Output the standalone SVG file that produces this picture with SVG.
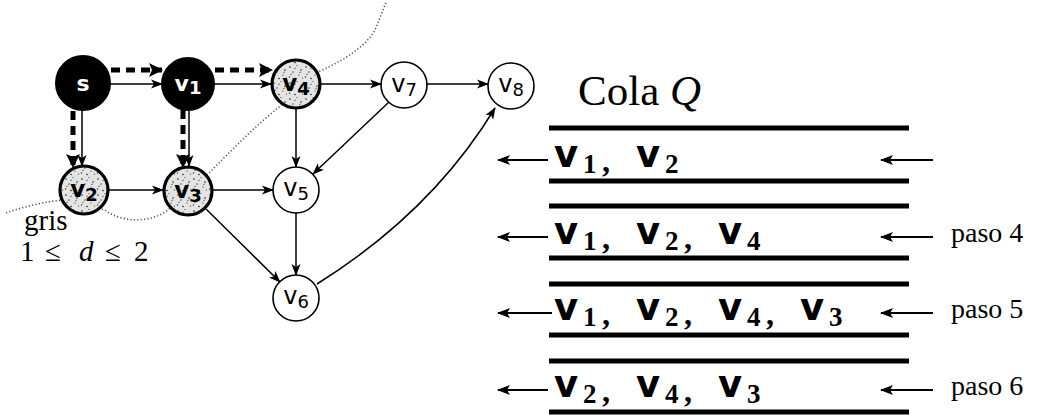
<svg xmlns="http://www.w3.org/2000/svg" width="1054" height="415" viewBox="0 0 1054 415">
  <style>
    .edge { fill: none; stroke: #000; stroke-width: 1.5; marker-end: url(#arr); }
    .tree { fill: none; stroke: #000; stroke-width: 5; stroke-dasharray: 9 6; marker-end: url(#arrBig); }
    .frontier { fill: none; stroke: #555; stroke-width: 1.6; stroke-dasharray: 1.2 2.2; }
    .black { fill: #000; stroke: #000; stroke-width: 2; }
    .gray { fill: url(#stipple); stroke: #000; stroke-width: 3.2; }
    .white { fill: #fff; stroke: #000; stroke-width: 1.6; }
    .lblW { font-family: "DejaVu Sans", sans-serif; font-weight: bold; font-size: 22px; fill: #fff; text-anchor: middle; }
    .lblB { font-family: "DejaVu Sans", sans-serif; font-weight: bold; font-size: 23px; fill: #000; text-anchor: middle; }
    .lbl { font-family: "DejaVu Sans", sans-serif; font-size: 24px; fill: #000; text-anchor: middle; }
    .sub { font-size: 18px; }
    .serif { font-family: "Liberation Serif", serif; fill: #000; }
    .bar { stroke: #000; stroke-width: 5; }
    .qarr { fill: none; stroke: #000; stroke-width: 2.2; marker-end: url(#arrQ); }
    .qv { font-family: "DejaVu Sans", sans-serif; font-weight: bold; font-size: 37px; fill: #000; }
    .qsub { font-family: "Liberation Serif", serif; font-weight: bold; font-size: 27px; fill: #000; }
    .qcomma { font-family: "Liberation Serif", serif; font-weight: bold; font-size: 32px; fill: #000; }
    .paso { font-family: "Liberation Serif", serif; font-size: 28px; fill: #000; }
  </style>
  <defs>
    <marker id="arr" viewBox="0 0 12 10" refX="11" refY="5" markerWidth="12" markerHeight="10" markerUnits="userSpaceOnUse" orient="auto">
      <path d="M0,0.5 L12,5 L0,9.5 L3,5 Z" fill="#000"/>
    </marker>
    <marker id="arrQ" viewBox="0 0 13 10" refX="12" refY="5" markerWidth="13" markerHeight="10" markerUnits="userSpaceOnUse" orient="auto">
      <path d="M0,0 L13,5 L0,10 L3,5 Z" fill="#000"/>
    </marker>
    <marker id="arrBig" viewBox="0 0 14 14" refX="13" refY="7" markerWidth="14" markerHeight="14" markerUnits="userSpaceOnUse" orient="auto">
      <path d="M0,0 L14,7 L0,14 L3,7 Z" fill="#000"/>
    </marker>
    <pattern id="stipple" width="16" height="16" patternUnits="userSpaceOnUse">
      <rect width="16" height="16" fill="#e4e4e4"/>
      <circle cx="2" cy="3" r="0.8" fill="#222"/>
      <circle cx="9" cy="1.5" r="0.6" fill="#333"/>
      <circle cx="13" cy="6" r="0.8" fill="#222"/>
      <circle cx="5" cy="8" r="0.7" fill="#333"/>
      <circle cx="11" cy="11" r="0.6" fill="#222"/>
      <circle cx="1.5" cy="13" r="0.7" fill="#333"/>
      <circle cx="7" cy="14.5" r="0.8" fill="#222"/>
      <circle cx="14.5" cy="14" r="0.6" fill="#333"/>
      <rect x="6" y="4" width="2.2" height="0.8" fill="#555" transform="rotate(-35 7 4.4)"/>
      <rect x="11" y="8" width="2.2" height="0.8" fill="#555" transform="rotate(-35 12 8.4)"/>
      <rect x="2" y="10" width="2.2" height="0.8" fill="#555" transform="rotate(-35 3 10.4)"/>
    </pattern>
  </defs>

  <!-- boundary between visited and unvisited vertices -->
  <path class="frontier" d="M6,213 C25,206 45,202 62,200 L105,210 C120,222 150,224 168,210 L210,172 C232,150 255,126 278,108 L318,72 C345,60 366,46 375,30 C380,18 383,10 386,2"/>

  <g id="connectors">
    <!-- BFS tree edges -->
    <path class="tree" d="M111,70 L162,70"/>
    <path class="tree" d="M215,70 L272,70"/>
    <path class="tree" d="M73,111 L73,167"/>
    <path class="tree" d="M183,110 L183,167"/>
    <!-- graph edges -->
    <path class="edge" d="M110,84 L162,84"/>
    <path class="edge" d="M214,84 L271,84"/>
    <path class="edge" d="M321,84 L381,84"/>
    <path class="edge" d="M427,84 L488,84"/>
    <path class="edge" d="M82,111 L82,166"/>
    <path class="edge" d="M189,110 L189,166"/>
    <path class="edge" d="M108,190 L163,190"/>
    <path class="edge" d="M213,190 L273,190"/>
    <path class="edge" d="M296,109 L296,167"/>
    <path class="edge" d="M389,102 L313,174"/>
    <path class="edge" d="M296,213 L296,275"/>
    <path class="edge" d="M206,209 L280,282"/>
    <path class="edge" d="M317,284 Q432,212 495,108"/>
  </g>

  <g id="node-s">
    <circle class="black" cx="83" cy="83" r="27"/>
    <text class="lblW" x="83" y="91">s</text>
  </g>
  <g id="node-v1">
    <circle class="black" cx="188" cy="84" r="26"/>
    <text class="lblW" x="188" y="91">v<tspan class="sub" dy="3">1</tspan></text>
  </g>
  <g id="node-v4">
    <circle class="gray" cx="296" cy="84" r="24"/>
    <text class="lblB" x="296" y="91">v<tspan class="sub" dy="4">4</tspan></text>
  </g>
  <g id="node-v7">
    <circle class="white" cx="404" cy="85" r="23"/>
    <text class="lbl" x="404" y="92">v<tspan class="sub" dy="4">7</tspan></text>
  </g>
  <g id="node-v8">
    <circle class="white" cx="511" cy="86" r="23"/>
    <text class="lbl" x="511" y="92">v<tspan class="sub" dy="4">8</tspan></text>
  </g>
  <g id="node-v2">
    <circle class="gray" cx="84" cy="190" r="24"/>
    <text class="lblB" x="84" y="197">v<tspan class="sub" dy="4">2</tspan></text>
  </g>
  <g id="node-v3">
    <circle class="gray" cx="188" cy="191" r="24"/>
    <text class="lblB" x="188" y="198">v<tspan class="sub" dy="4">3</tspan></text>
  </g>
  <g id="node-v5">
    <circle class="white" cx="296" cy="190" r="23"/>
    <text class="lbl" x="296" y="196">v<tspan class="sub" dy="4">5</tspan></text>
  </g>
  <g id="node-v6">
    <circle class="white" cx="296" cy="298" r="23"/>
    <text class="lbl" x="296" y="304">v<tspan class="sub" dy="4">6</tspan></text>
  </g>

  <!-- annotation for the gray vertices -->
  <text class="serif" x="24" y="230" font-size="29">gris</text>
  <text class="serif" x="20" y="261" font-size="29">1</text>
  <text class="serif" x="45" y="261" font-size="29">≤</text>
  <text class="serif" x="79" y="261" font-size="29" font-style="italic">d</text>
  <text class="serif" x="105" y="261" font-size="29">≤</text>
  <text class="serif" x="134" y="261" font-size="29">2</text>

  <g id="queue">
    <text class="serif" x="578" y="105" font-size="43">Cola <tspan font-style="italic">Q</tspan></text>

    <!-- bars -->
    <line class="bar" x1="549" y1="128" x2="909" y2="128"/>
    <line class="bar" x1="549" y1="181" x2="909" y2="181"/>
    <line class="bar" x1="549" y1="206" x2="909" y2="206"/>
    <line class="bar" x1="549" y1="258" x2="909" y2="258"/>
    <line class="bar" x1="549" y1="284" x2="909" y2="284"/>
    <line class="bar" x1="549" y1="335" x2="909" y2="335"/>
    <line class="bar" x1="549" y1="361" x2="909" y2="361"/>
    <line class="bar" x1="549" y1="412" x2="909" y2="412"/>

    <!-- in/out arrows -->
    <path class="qarr" d="M548,160 L498,160"/>
    <path class="qarr" d="M933,160 L881,160"/>
    <path class="qarr" d="M548,237 L498,237"/>
    <path class="qarr" d="M933,237 L881,237"/>
    <path class="qarr" d="M552,313 L498,313"/>
    <path class="qarr" d="M933,313 L881,313"/>
    <path class="qarr" d="M548,390 L498,390"/>
    <path class="qarr" d="M933,390 L881,390"/>

    <!-- row 1 -->
    <text class="qv" x="554" y="167">v</text><text class="qsub" x="583" y="173">1</text><text class="qcomma" x="602" y="172">,</text>
    <text class="qv" x="636" y="167">v</text><text class="qsub" x="665" y="173">2</text>
    <!-- row 2 -->
    <text class="qv" x="554" y="244">v</text><text class="qsub" x="583" y="250">1</text><text class="qcomma" x="602" y="249">,</text>
    <text class="qv" x="636" y="244">v</text><text class="qsub" x="665" y="250">2</text><text class="qcomma" x="684" y="249">,</text>
    <text class="qv" x="718" y="244">v</text><text class="qsub" x="747" y="250">4</text>
    <!-- row 3 -->
    <text class="qv" x="554" y="320">v</text><text class="qsub" x="583" y="326">1</text><text class="qcomma" x="602" y="325">,</text>
    <text class="qv" x="636" y="320">v</text><text class="qsub" x="665" y="326">2</text><text class="qcomma" x="684" y="325">,</text>
    <text class="qv" x="718" y="320">v</text><text class="qsub" x="747" y="326">4</text><text class="qcomma" x="766" y="325">,</text>
    <text class="qv" x="800" y="320">v</text><text class="qsub" x="829" y="326">3</text>
    <!-- row 4 -->
    <text class="qv" x="554" y="397">v</text><text class="qsub" x="583" y="403">2</text><text class="qcomma" x="602" y="402">,</text>
    <text class="qv" x="636" y="397">v</text><text class="qsub" x="665" y="403">4</text><text class="qcomma" x="684" y="402">,</text>
    <text class="qv" x="718" y="397">v</text><text class="qsub" x="747" y="403">3</text>

    <text class="paso" x="951" y="242">paso 4</text>
    <text class="paso" x="951" y="318">paso 5</text>
    <text class="paso" x="951" y="395">paso 6</text>
  </g>
</svg>
